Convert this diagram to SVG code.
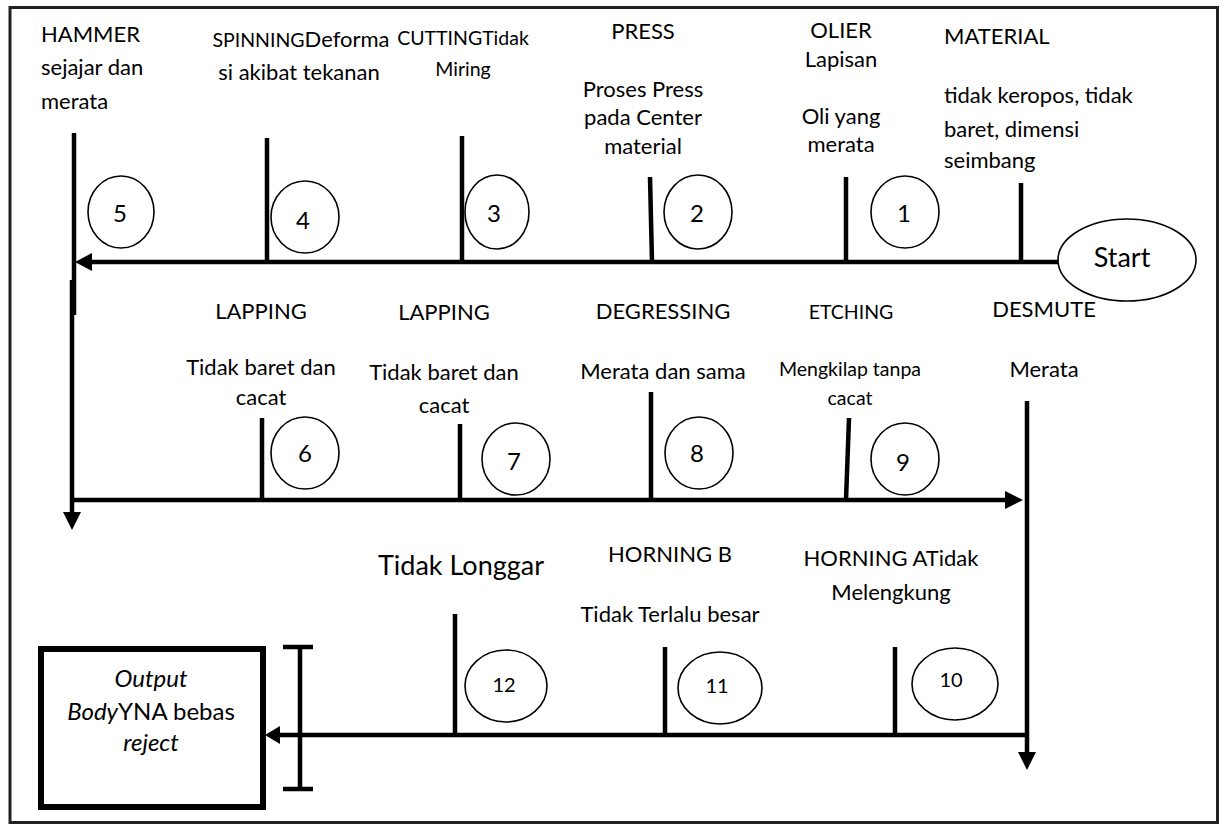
<svg xmlns="http://www.w3.org/2000/svg" width="1224" height="824" viewBox="0 0 1224 824">
<style>
text{font-family:Lato,"Liberation Sans",sans-serif;fill:#000;}
.l{font-size:22px;}
.s{font-size:19.5px;}
.m{text-anchor:middle;}
.n{font-size:24px;text-anchor:middle;}
.n2{font-size:20px;text-anchor:middle;}
.c{fill:#fff;stroke:#000;stroke-width:1.6;}
.w{stroke:#000;stroke-width:4.5;fill:none;}
.ah{fill:#000;stroke:none;}
</style>
<defs>
<clipPath id="clipMat"><rect x="900" y="0" width="300" height="173"/></clipPath>
</defs>
<rect x="0" y="0" width="1224" height="824" fill="#fff"/>
<rect x="10" y="7.5" width="1207.5" height="815" fill="none" stroke="#222" stroke-width="3"/>

<g id="connectors">
<line class="w" x1="1058" y1="262" x2="88" y2="262"/>
<polygon class="ah" points="75,262 92,253 92,271"/>
<line class="w" x1="74" y1="133" x2="74" y2="315"/>
<line class="w" x1="72" y1="280" x2="72" y2="515"/>
<polygon class="ah" points="72,530 63,512 81,512"/>
<line class="w" x1="70" y1="500" x2="1008" y2="500"/>
<polygon class="ah" points="1023,500 1005,491 1005,509"/>
<line class="w" x1="1027" y1="401" x2="1027" y2="755"/>
<polygon class="ah" points="1027,770 1018,752 1036,752"/>
<line class="w" x1="1029" y1="735" x2="276" y2="735"/>
<polygon class="ah" points="265,735 280,726 280,744"/>
<line class="w" x1="1021" y1="183" x2="1021" y2="262"/>
<line class="w" x1="846" y1="177" x2="846" y2="262"/>
<line class="w" x1="650" y1="177" x2="652" y2="262"/>
<line class="w" x1="462" y1="136" x2="462" y2="262"/>
<line class="w" x1="267" y1="138" x2="267" y2="262"/>
<line class="w" x1="262" y1="418" x2="262" y2="500"/>
<line class="w" x1="460" y1="424" x2="460" y2="500"/>
<line class="w" x1="651" y1="392" x2="651" y2="500"/>
<line class="w" x1="849" y1="418" x2="846" y2="500"/>
<line class="w" x1="895" y1="647" x2="895" y2="735"/>
<line class="w" x1="665" y1="647" x2="665" y2="735"/>
<line class="w" x1="455" y1="614" x2="455" y2="735"/>
<line class="w" x1="300" y1="647" x2="300" y2="789"/>
<line class="w" x1="283" y1="647" x2="313" y2="647" stroke-width="6"/>
<line class="w" x1="283" y1="789" x2="313" y2="789" stroke-width="6"/>
</g>

<g id="start">
<ellipse class="c" cx="1127" cy="260" rx="69" ry="41"/>
<text x="1122" y="267" style="font-size:27px" class="m">Start</text>
</g>

<g id="material">
<text class="l" x="944" y="44">MATERIAL</text>
<g clip-path="url(#clipMat)">
<text class="l" x="944" y="103">tidak keropos, tidak</text>
<text class="l" x="944" y="137">baret, dimensi</text>
<text class="l" x="944" y="168">seimbang</text>
</g>
</g>

<g id="step1">
<ellipse class="c" cx="905" cy="212" rx="34" ry="36"/>
<text class="n" x="904" y="222">1</text>
<text class="l m" x="841" y="38">OLIER</text>
<text class="l m" x="841" y="67">Lapisan</text>
<text class="l m" x="841" y="124">Oli yang</text>
<text class="l m" x="841" y="152">merata</text>
</g>

<g id="step2">
<ellipse class="c" cx="698" cy="212" rx="34" ry="37"/>
<text class="n" x="697" y="222">2</text>
<text class="l m" x="643" y="39">PRESS</text>
<text class="l m" x="643" y="97">Proses Press</text>
<text class="l m" x="643" y="125">pada Center</text>
<text class="l m" x="643" y="154">material</text>
</g>

<g id="step3">
<ellipse class="c" cx="497" cy="212" rx="32" ry="37"/>
<text class="n" x="494" y="222">3</text>
<text class="s m" x="463" y="45">CUTTINGTidak</text>
<text class="s m" x="463" y="76">Miring</text>
</g>

<g id="step4">
<ellipse class="c" cx="305" cy="217" rx="34" ry="36"/>
<text class="n" x="303" y="229">4</text>
<text class="l m" x="301" y="47"><tspan style="font-size:19.5px">SPINNING</tspan>Deforma</text>
<text class="l m" x="299" y="80">si akibat tekanan</text>
</g>

<g id="step5">
<ellipse class="c" cx="121" cy="212" rx="33" ry="36"/>
<text class="n" x="120" y="222">5</text>
<text class="l" x="41" y="42">HAMMER</text>
<text class="l" x="41" y="75">sejajar dan</text>
<text class="l" x="41" y="109">merata</text>
</g>

<g id="step6">
<ellipse class="c" cx="305" cy="453" rx="34" ry="36"/>
<text class="n" x="305" y="462">6</text>
<text class="l m" x="261" y="319">LAPPING</text>
<text class="l m" x="261" y="375">Tidak baret dan</text>
<text class="l m" x="261" y="405">cacat</text>
</g>

<g id="step7">
<ellipse class="c" cx="516" cy="459" rx="34" ry="36"/>
<text class="n" x="514" y="470">7</text>
<text class="l m" x="444" y="320">LAPPING</text>
<text class="l m" x="444" y="380">Tidak baret dan</text>
<text class="l m" x="444" y="413">cacat</text>
</g>

<g id="step8">
<ellipse class="c" cx="699" cy="453" rx="34" ry="36"/>
<text class="n" x="697" y="462">8</text>
<text class="l m" x="663" y="319">DEGRESSING</text>
<text class="l m" x="663" y="379">Merata dan sama</text>
</g>

<g id="step9">
<ellipse class="c" cx="905" cy="459" rx="34" ry="36"/>
<text class="n" x="903" y="471">9</text>
<text class="s m" x="851" y="319">ETCHING</text>
<text class="s m" x="850" y="376">Mengkilap tanpa</text>
<text class="s m" x="850" y="405">cacat</text>
</g>

<g id="desmute">
<text class="l m" x="1044" y="317">DESMUTE</text>
<text class="l m" x="1044" y="377">Merata</text>
</g>

<g id="step10">
<ellipse class="c" cx="955" cy="684" rx="43" ry="36"/>
<text class="n2" x="951" y="687">10</text>
<text class="l m" x="891" y="566">HORNING ATidak</text>
<text class="l m" x="891" y="600">Melengkung</text>
</g>

<g id="step11">
<ellipse class="c" cx="720" cy="688" rx="42" ry="36"/>
<text class="n2" x="717" y="693">11</text>
<text class="l m" x="670" y="562">HORNING B</text>
<text class="l m" x="670" y="622">Tidak Terlalu besar</text>
</g>

<g id="step12">
<ellipse class="c" cx="506" cy="686" rx="41" ry="36"/>
<text class="n2" x="504" y="692">12</text>
<text class="m" style="font-size:27px" x="461" y="575">Tidak Longgar</text>
</g>

<g id="output">
<rect x="41" y="649" width="222" height="158" fill="#fff" stroke="#000" stroke-width="6"/>
<text class="m" style="font-size:24px" x="151" y="687"><tspan font-style="italic">Output</tspan></text>
<text class="m" style="font-size:24px" x="151" y="720"><tspan font-style="italic">Body</tspan>YNA bebas</text>
<text class="m" style="font-size:24px" x="151" y="751"><tspan font-style="italic">reject</tspan></text>
</g>
</svg>
